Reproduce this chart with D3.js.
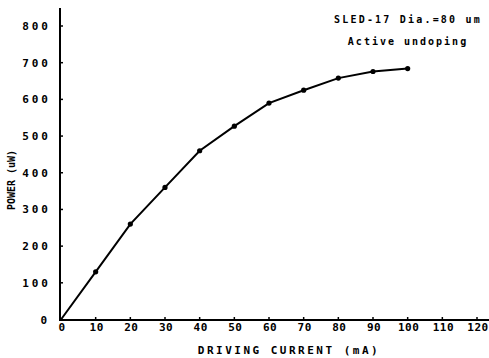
<!DOCTYPE html>
<html>
<head>
<meta charset="utf-8">
<script src="https://cdn.jsdelivr.net/npm/d3@7"></script>
<style>
body { margin: 0; background: #fff; }
text { font-family: "DejaVu Sans Mono", monospace; font-weight: bold; fill: #000; }
</style>
</head>
<body>
<script>
// driving current (mA) vs power (uW)
var current = [0, 10, 20, 30, 40, 50, 60, 70, 80, 90, 100];
var power = [0, 130, 260, 360, 460, 527, 590, 625, 658, 676, 684];
var xTicks = [0, 10, 20, 30, 40, 50, 60, 70, 80, 90, 100, 110, 120];
var yTicks = [0, 100, 200, 300, 400, 500, 600, 700, 800];

var w = 489, h = 358;
var svg = d3.select("body").append("svg")
	.attr("width", w)
	.attr("height", h);

var xScale = d3.scaleLinear().domain([0, 120]).range([61, 477]);
var yScale = d3.scaleLinear().domain([0, 800]).range([319.5, 26]);

// axes lines
svg.append("line")
	.attr("x1", 60).attr("x2", 60).attr("y1", 8).attr("y2", 320.5)
	.attr("stroke", "#000").attr("stroke-width", 2);
svg.append("line")
	.attr("x1", 59).attr("x2", 489).attr("y1", 320).attr("y2", 320)
	.attr("stroke", "#000").attr("stroke-width", 2);

// y ticks + labels
svg.selectAll(".yt").data(yTicks.slice(1)).enter().append("line")
	.attr("x1", 60).attr("x2", 63)
	.attr("y1", function(d) { return yScale(d); })
	.attr("y2", function(d) { return yScale(d); })
	.attr("stroke", "#000").attr("stroke-width", 1.5);
svg.selectAll(".yl").data(yTicks).enter().append("text")
	.attr("x", function(d) { return d === 0 ? 50 : 51; })
	.attr("y", function(d) { return yScale(d) + 4; })
	.attr("text-anchor", "end")
	.attr("font-size", "11px")
	.attr("letter-spacing", "3px")
	.text(function(d) { return d; });

// x ticks + labels
svg.selectAll(".xt").data(xTicks.slice(1)).enter().append("line")
	.attr("x1", function(d) { return xScale(d); })
	.attr("x2", function(d) { return xScale(d); })
	.attr("y1", 320).attr("y2", 317)
	.attr("stroke", "#000").attr("stroke-width", 1.5);
svg.selectAll(".xl").data(xTicks).enter().append("text")
	.attr("x", function(d) { return xScale(d) + 1; })
	.attr("y", 331)
	.attr("text-anchor", "middle")
	.attr("font-size", "11px")
	.attr("letter-spacing", "0.5px")
	.text(function(d) { return d; });

// axis titles
svg.append("text")
	.attr("x", 289).attr("y", 354)
	.attr("text-anchor", "middle")
	.attr("font-size", "11px")
	.attr("letter-spacing", "2.5px")
	.text("DRIVING CURRENT (mA)");
svg.append("text")
	.attr("transform", "translate(15,180) rotate(-90)")
	.attr("text-anchor", "middle")
	.attr("font-size", "10px")
	.attr("letter-spacing", "0px")
	.text("POWER (uW)");

// annotation
svg.append("text")
	.attr("x", 408).attr("y", 23)
	.attr("text-anchor", "middle")
	.attr("font-size", "10px")
	.attr("letter-spacing", "2.2px")
	.text("SLED-17 Dia.=80 um");
svg.append("text")
	.attr("x", 408).attr("y", 45)
	.attr("text-anchor", "middle")
	.attr("font-size", "10px")
	.attr("letter-spacing", "2px")
	.text("Active undoping");

// curve
var data = current.map(function(c, i) { return [c, power[i]]; });
var line = d3.line()
	.x(function(d) { return xScale(d[0]); })
	.y(function(d) { return yScale(d[1]); });
svg.append("path")
	.datum(data)
	.attr("d", line)
	.attr("fill", "none")
	.attr("stroke", "#000")
	.attr("stroke-width", 2);
svg.selectAll(".pt").data(data.slice(1)).enter().append("circle")
	.attr("cx", function(d) { return xScale(d[0]); })
	.attr("cy", function(d) { return yScale(d[1]); })
	.attr("r", 2.6)
	.attr("fill", "#000");
</script>
</body>
</html>
